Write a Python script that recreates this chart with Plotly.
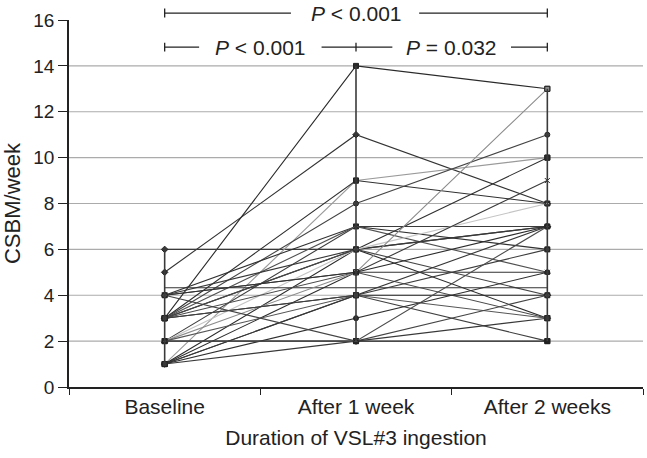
import plotly.graph_objects as go

categories = ["Baseline", "After 1 week", "After 2 weeks"]

# CSBM/week per patient at each time point
baseline = [3, 5, 6, 1, 3, 3, 2, 4, 3, 3, 4, 1, 2, 3, 4.33, 4, 1, 3, 2, 4, 1, 3, 2, 1, 3, 1, 2, 4, 1, 2]
week1 =    [14, 11, 6, 9, 9, 8, 7, 7, 7, 6, 6, 6, 6, 6, 4.33, 5, 5, 5, 5, 5, 4, 4, 4, 4, 4, 3, 2, 2, 2, 2]
week2 =    [13, 8, 7, 10, 8, 11, 7, 6, 5, 10, 7, 3, 8, 4, 4.33, 9, 7, 3, 13, 5, 6, 4, 3, 7, 2, 5, 2, 4, 3, 7]

yticks = [0, 2, 4, 6, 8, 10, 12, 14, 16]
gridvals = [2, 4, 6, 8, 10, 12, 14]

line_colors = ["#2a2a2a", "#333333", "#3a3a3a", "#9a9a9a", "#2e2e2e", "#444444",
               "#3c3c3c", "#303030", "#505050", "#2f2f2f", "#383838", "#2a2a2a",
               "#c4c4c4", "#454545", "#333333", "#3a3a3a", "#2c2c2c", "#4a4a4a",
               "#8c8c8c", "#333333", "#3d3d3d", "#2b2b2b", "#555555", "#363636",
               "#404040", "#2e2e2e", "#222222", "#444444", "#383838", "#4b4b4b"]
symbols = ["square", "diamond", "diamond", "square", "square", "circle",
           "triangle-up", "square", "x-thin", "square", "circle", "square",
           "triangle-up", "diamond", "circle", "x-thin", "square", "diamond",
           "square", "triangle-up", "circle", "square", "x-thin", "diamond",
           "square", "circle", "square", "diamond", "square", "triangle-up"]

fig = go.Figure()

# gridlines (no line at 16)
for g in gridvals:
    fig.add_shape(type="line", xref="paper", yref="y", x0=0, x1=1, y0=g, y1=g,
                  line=dict(color="#ababab", width=1.2), layer="below")

for i in range(len(baseline)):
    no_marker = baseline[i] == week1[i] == week2[i] and baseline[i] % 1 != 0
    fig.add_trace(go.Scatter(
        x=categories, y=[baseline[i], week1[i], week2[i]],
        mode="lines" if no_marker else "lines+markers",
        line=dict(color=line_colors[i], width=1.1),
        marker=dict(symbol=symbols[i], size=5, color=line_colors[i],
                    line=dict(color="#222222", width=1)),
        showlegend=False, hoverinfo="skip"))

# high-low lines per category
series = [baseline, week1, week2]
for c, vals in zip(categories, series):
    fig.add_trace(go.Scatter(x=[c, c], y=[min(vals), max(vals)], mode="lines",
                             line=dict(color="#3a3a3a", width=1.6),
                             showlegend=False, hoverinfo="skip"))

# significance brackets
def seg(x0, x1, y):
    fig.add_shape(type="line", xref="x", yref="paper", x0=x0, x1=x1, y0=y, y1=y,
                  line=dict(color="#222222", width=1.3))

def cap(x, y):
    fig.add_shape(type="line", xref="x", yref="paper", x0=x, x1=x, y0=y - 0.012, y1=y + 0.012,
                  line=dict(color="#222222", width=1.3))

ytop, yrow = 1.019, 0.926
seg(0, 0.66, ytop); seg(1.33, 2, ytop); cap(0, ytop); cap(2, ytop)
seg(0, 0.18, yrow); seg(0.82, 1.19, yrow); seg(1.81, 2, yrow)
cap(0, yrow); cap(1, yrow); cap(2, yrow)

ann_font = dict(family="Liberation Sans, Arial, sans-serif", size=21, color="#222222")
fig.add_annotation(x=1, y=ytop, xref="x", yref="paper", text="<i>P</i> < 0.001",
                   showarrow=False, font=ann_font, yanchor="middle")
fig.add_annotation(x=0.5, y=yrow, xref="x", yref="paper", text="<i>P</i> < 0.001",
                   showarrow=False, font=ann_font, yanchor="middle")
fig.add_annotation(x=1.5, y=yrow, xref="x", yref="paper", text="<i>P</i> = 0.032",
                   showarrow=False, font=ann_font, yanchor="middle")

fig.update_layout(
    width=647, height=458,
    margin=dict(l=69, r=4, t=20, b=71),
    paper_bgcolor="white", plot_bgcolor="white",
    font=dict(family="Liberation Sans, Arial, sans-serif", size=18, color="#222222"),
    xaxis=dict(type="category", categoryorder="array", categoryarray=categories,
               range=[-0.5, 2.5], showgrid=False, showline=True, linecolor="#222222",
               linewidth=1.5, ticks="outside", tickson="boundaries", ticklen=6,
               tickcolor="#222222", tickfont=dict(size=21),
               title=dict(text="Duration of VSL#3 ingestion", font=dict(size=21), standoff=13)),
    yaxis=dict(range=[0, 16], tickvals=yticks, showgrid=False, zeroline=False,
               showline=True, linecolor="#222222", linewidth=1.5, ticks="outside",
               ticklen=9, tickcolor="#222222", tickfont=dict(size=19),
               title=dict(text="CSBM/week", font=dict(size=22), standoff=12)),
)

fig.write_html("out.html", config={"displayModeBar": False},
               post_script="document.body.style.margin='0px';")
